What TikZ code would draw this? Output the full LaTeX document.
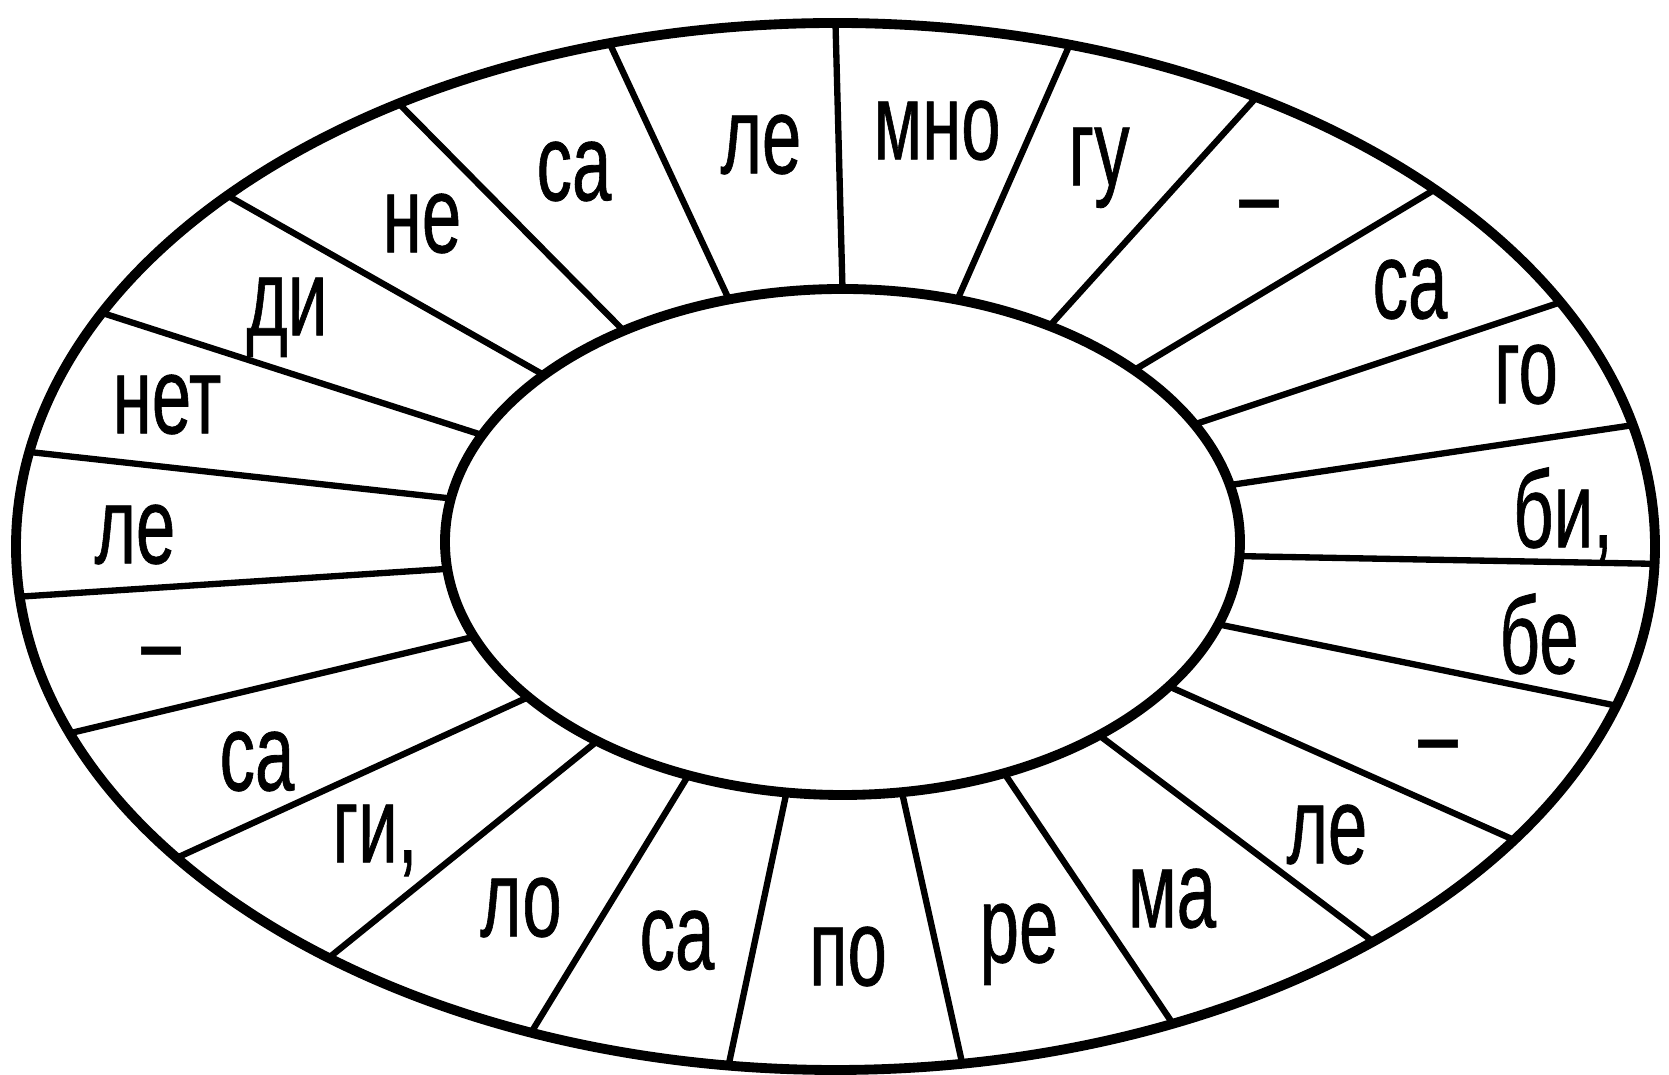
\documentclass[tikz,border=0pt]{standalone}
\usepackage{fontspec}
\setmainfont{Liberation Sans}
\newfontfamily\sylfont[RawFeature={embolden=0.8}]{Liberation Sans}
\usepackage{graphicx}
\newcommand{\syl}[1]{\scalebox{0.65}[1]{#1}}

\begin{document}
\begin{tikzpicture}[black,
  syl/.style={inner sep=0pt, text height=16.1pt, text depth=0pt,
    font=\sylfont\fontsize{31}{36}\selectfont}]

\useasboundingbox (-8.355,-5.285) rectangle (8.335,5.465);

% centres of the two rings
\coordinate (outc) at (0,0);
\coordinate (innc) at (0.07,0.045);

% spokes
\foreach \p/\q in {90/90, 73.2/73.4, 58.6/59.1, 42.8/43.0, 27.7/27.8, 13.0/13.4,
    -3.2/-1.9, -19.0/-17.7, -34.8/-34.1, -49.8/-49.0, -66.0/-65.7, -81.4/-81.1,
    -98.1/-97.5, -112.8/-111.8, -128.1/-128.2, -142.2/-143.5, -158.0/-159.1,
    -173.9/-174.5, 170.1/169.6, 155.0/153.5, 138.7/137.9, 123.4/122.2, 106.6/106.0}
  \draw[line width=1.8pt] ([shift={(innc)}]\p:3.975 and 2.53)
    -- ([shift={(outc)}]\q:8.195 and 5.235);

% rings
\draw[line width=2.8pt] (outc) ellipse [x radius=8.195, y radius=5.235];
\draw[line width=2.8pt] (innc) ellipse [x radius=3.975, y radius=2.53];

% syllables
\foreach \x/\y/\t [count=\i] in {-0.745/4.015/ле, 1.015/4.155/мно, 2.635/3.895/гу,
    4.235/3.435/–, 5.745/2.565/са, 6.905/1.715/го, 7.275/0.275/{би,},
    7.035/-0.985/бе, 6.025/-1.965/–, 4.915/-2.885/ле, 3.365/-3.525/ма,
    1.835/-3.875/ре, 0.125/-4.105/по, -1.585/-3.945/са, -3.145/-3.615/ло,
    -4.605/-2.875/{ги,}, -5.785/-2.155/са, -6.745/-1.035/–, -7.005/0.115/ле,
    -6.685/1.415/нет, -5.485/2.395/ди, -4.135/3.225/не, -2.615/3.745/са}
  \node[syl] (s\i) at (\x,\y) {\syl{\t}};

\end{tikzpicture}
\end{document}
